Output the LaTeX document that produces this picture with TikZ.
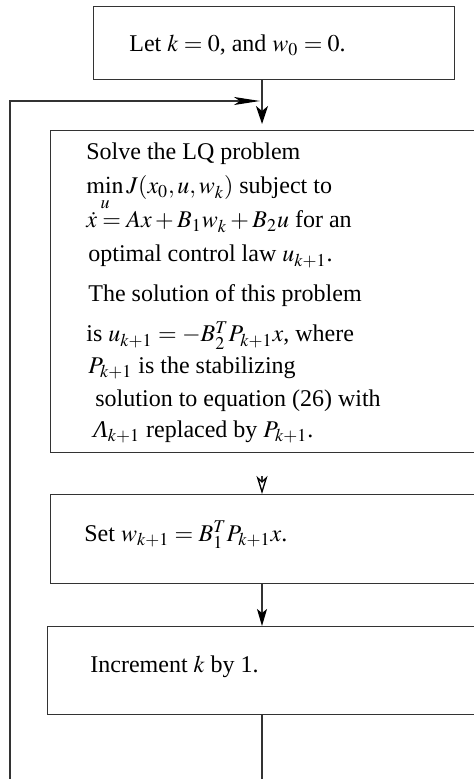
\documentclass[tikz,border=0pt]{standalone}
\usepackage{mathptmx}
\usepackage{fontspec}
\setmainfont{Liberation Serif}
\usetikzlibrary{arrows.meta}
\begin{document}
\begin{tikzpicture}[x=0.5pt,y=-0.5pt,
  box/.style={draw=black!80,line width=0.65pt,rectangle,inner sep=0pt,anchor=north west},
  txt/.style={anchor=base west,inner sep=0pt,font=\fontsize{12}{14}\selectfont},
  conn/.style={draw=black!80,line width=0.65pt},
  fillhead/.style={-{Stealth[length=#1,fill=black,color=black]}},
]
\useasboundingbox (0,0) rectangle (474,779);
\clip (0,0) rectangle (474,779);
% boxes
\node[box,minimum width=180.5pt,minimum height=36.5pt] (start) at (93,6) {};
\node[box,minimum width=213pt,minimum height=161pt] (solve) at (50,130) {};
\node[box,minimum width=213pt,minimum height=44.5pt] (setw) at (50,494) {};
\node[box,minimum width=214.5pt,minimum height=44pt] (incr) at (47,626) {};
% helper coordinates
\coordinate (ax) at (262,0);
\coordinate (tl) at (10,101);
\coordinate (bl) at (10,820);
\coordinate (m) at (260,101);
% texts
\node[txt] (t0) at (129,52) {Let $k=0$, and $w_0=0$.};
\node[txt] (s1) at (86,160) {Solve the LQ problem};
\node[txt] (s2) at (86,194) {$\min\limits_{u} J(x_0,u,w_k)$ subject to};
\node[txt] (s3) at (86,228) {$\dot{x}=Ax+B_1w_k+B_2u$ for an};
\node[txt] (s4) at (88,262) {optimal control law $u_{k+1}$.};
\node[txt] (s5) at (88,302) {The solution of this problem};
\node[txt] (s6) at (86,342) {is $u_{k+1}=-B_2^TP_{k+1}x$, where};
\node[txt] (s7) at (88,373) {$P_{k+1}$ is the stabilizing};
\node[txt] (s8) at (95,407) {solution to equation (26) with};
\node[txt] (s9) at (93,437) {{\itshape Λ}$_{k+1}$ replaced by $P_{k+1}$.};
\node[txt] (w1) at (84,541) {Set $w_{k+1}=B_1^TP_{k+1}x$.};
\node[txt] (i1) at (90,672) {Increment $k$ by 1.};
% connectors
\draw[conn,-{Stealth[length=9pt,width=6pt,inset=2.5pt,fill=black,color=black]},shorten >=3pt]
  (ax |- start.south) -- (ax |- solve.north);
\draw[conn,-{Stealth[open,length=9pt,width=5.5pt,inset=2.5pt,color=black]},shorten <=11.5pt]
  (ax |- solve.south) -- (ax |- setw.north);
\draw[conn,-{Stealth[length=8.5pt,width=5pt,inset=2pt,fill=black,color=black]}]
  (ax |- setw.south) -- (ax |- incr.north);
\draw[conn,-{Stealth[length=13pt,width=4pt,inset=3pt,fill=black,color=black]}]
  (ax |- incr.south) -- (ax |- bl) -- (bl) -- (tl) -- (m);
\end{tikzpicture}
\end{document}
